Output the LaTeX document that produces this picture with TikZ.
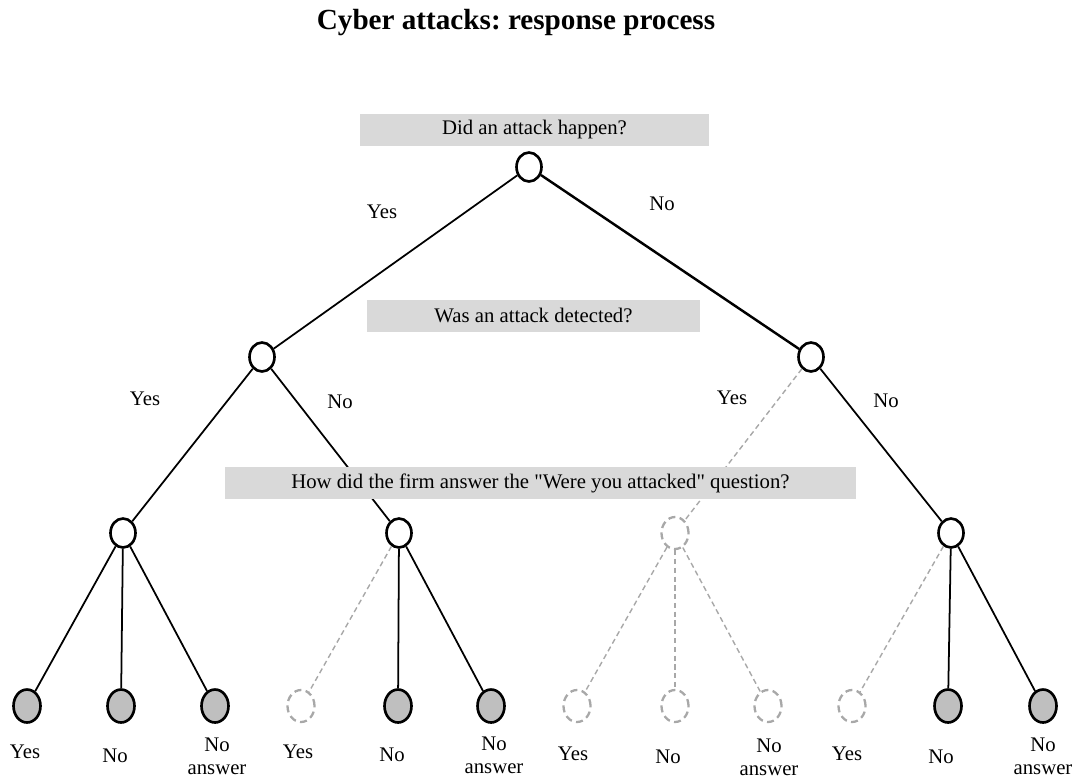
\documentclass[tikz,border=0pt]{standalone}
\usepackage{fontspec}
\setmainfont{Liberation Serif}[Ligatures=TeXOff]
\usetikzlibrary{shapes.geometric}
\definecolor{boxgray}{RGB}{217,217,217}
\definecolor{leafgray}{RGB}{191,191,191}
\definecolor{ghostgray}{RGB}{168,168,168}
\frenchspacing
\tikzset{
  question/.style={
      fill=boxgray,
      inner sep=0pt,
      minimum height=0.64cm,
  },
  choice/.style={
      draw,
      ellipse,
      line width=1.5pt,
      fill=white,
      inner sep=0pt,
      minimum width=0.5cm,
      minimum height=0.58cm,
  },
  outcome/.style={
      choice,
      fill=leafgray,
      minimum width=0.54cm,
      minimum height=0.66cm,
  },
  unused/.style={
      choice,
      draw=ghostgray,
      line width=1.3pt,
      minimum width=0.54cm,
      minimum height=0.64cm,
      dash pattern=on 4pt off 2.5pt,
  },
  branch/.style={
      line width=1pt
  },
  ghost/.style={
      draw=ghostgray,
      line width=0.8pt,
      dash pattern=on 3pt off 2pt
  },
}

\begin{document}
\begin{tikzpicture}[x=0.02cm, y=-0.02cm]
  \tikzstyle{every node}=[font=\fontsize{11.8}{13}\selectfont]
  \useasboundingbox (0,0) rectangle (1077,778);

  \node(TITLE) at (516,23) [font=\fontsize{16.6}{18}\selectfont\bfseries] {Cyber attacks: response process};

  % decision points
  \node(HAPPEN)   at (529,167) [choice] {};
  \node(DETECT1)  at (262,357) [choice] {};
  \node(DETECT2)  at (811,357) [choice] {};
  \node(ANSWER1)  at (123,533) [choice] {};
  \node(ANSWER2)  at (399,533) [choice] {};
  \node(ANSWER3)  at (675,533) [unused] {};
  \node(ANSWER4)  at (951,533) [choice] {};

  % outcomes
  \foreach \name/\x/\kind in {A/27/outcome, B/121/outcome, C/215/outcome,
      D/301/unused, E/398/outcome, F/491/outcome,
      G/577/unused, H/675/unused, I/768/unused,
      J/852/unused, K/948/outcome, L/1043/outcome}
    \node(LEAF\name) at (\x,706) [\kind] {};

  \path[branch]
  (HAPPEN)  edge (DETECT1)
  (DETECT1) edge (ANSWER1)
  (DETECT1) edge (ANSWER2)
  (DETECT2) edge (ANSWER4)
  (ANSWER1) edge (LEAFA)
  (ANSWER1) edge (LEAFB)
  (ANSWER1) edge (LEAFC)
  (ANSWER2) edge (LEAFE)
  (ANSWER2) edge (LEAFF)
  (ANSWER4) edge (LEAFK)
  (ANSWER4) edge (LEAFL)
  ;
  \draw[line width=1.4pt] (HAPPEN) -- (DETECT2);

  \path[ghost]
  (DETECT2) edge (ANSWER3)
  (ANSWER2) edge (LEAFD)
  (ANSWER3) edge (LEAFG)
  (ANSWER3) edge (LEAFH)
  (ANSWER3) edge (LEAFI)
  (ANSWER4) edge (LEAFJ)
  ;

  % questions
  \node(Q1) at (534.5,129.5) [question, minimum width=6.98cm] {Did an attack happen?};
  \node(Q2) at (533.5,315.5) [question, minimum width=6.66cm] {Was an attack detected?};
  \node(Q3) at (540.5,483)   [question, minimum width=12.62cm] {How did the firm answer the "Were you attacked" question?};

  % branch labels
  \node(HAPPENYES)  at (382,212) {Yes};
  \node(HAPPENNO)   at (662,204) {No};
  \node(DETECT1YES) at (145,399) {Yes};
  \node(DETECT1NO)  at (340,402) {No};
  \node(DETECT2YES) at (732,398) {Yes};
  \node(DETECT2NO)  at (886,401) {No};

  % outcome labels
  \node(LABA) at (25,752)   {Yes};
  \node(LABB) at (115,756)  {No};
  \node(LABC) at (217,756)  [align=center] {No\\answer};
  \node(LABD) at (298,752)  {Yes};
  \node(LABE) at (392,755)  {No};
  \node(LABF) at (494,755)  [align=center] {No\\answer};
  \node(LABG) at (573,754)  {Yes};
  \node(LABH) at (668,757)  {No};
  \node(LABI) at (769,757)  [align=center] {No\\answer};
  \node(LABJ) at (847,754)  {Yes};
  \node(LABK) at (941,757)  {No};
  \node(LABL) at (1043,756) [align=center] {No\\answer};
\end{tikzpicture}
\end{document}
